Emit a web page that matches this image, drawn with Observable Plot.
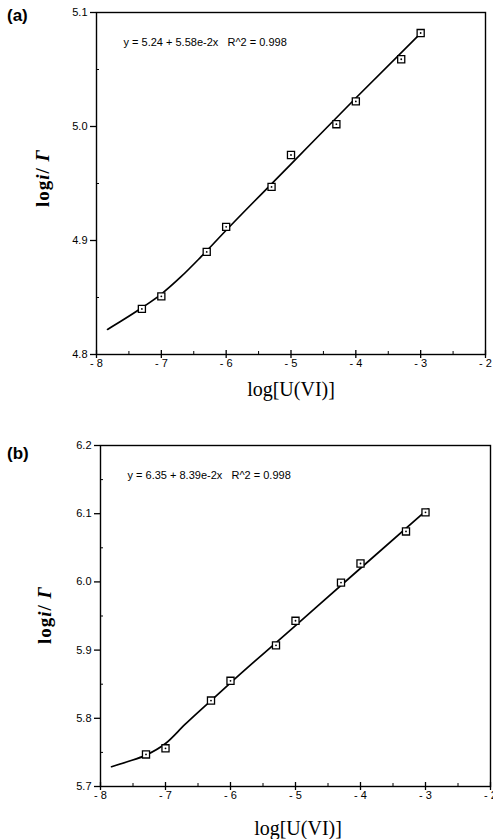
<!DOCTYPE html>
<html><head><meta charset="utf-8">
<script src="https://cdn.jsdelivr.net/npm/d3@7"></script>
<script src="https://cdn.jsdelivr.net/npm/@observablehq/plot@0.6"></script>
<style>
body{margin:0;background:#fff;}
#wrap{position:relative;width:493px;height:839px;overflow:hidden;background:#fff;}
.panel{position:absolute;left:0;}
.plabel{position:absolute;font:bold 17px "Liberation Sans",Arial,sans-serif;color:#000;}
.ytitle{position:absolute;font:bold 19px "Liberation Serif","Times New Roman",serif;letter-spacing:1px;color:#000;white-space:nowrap;transform:translate(-50%,-50%) rotate(-90deg);}
.xtitle{position:absolute;font:20px "Liberation Serif","Times New Roman",serif;color:#000;white-space:nowrap;transform:translate(-50%,-50%);}
</style>
</head><body>
<div id="wrap">
  <div class="panel" id="pa" style="top:0"></div>
  <div class="panel" id="pb" style="top:420px"></div>
  <div class="plabel" style="left:7px;top:6px">(a)</div>
  <div class="plabel" style="left:7px;top:444px">(b)</div>
  <div class="ytitle" style="left:43px;top:178px">log<i>i</i>/ <i>Γ</i></div>
  <div class="ytitle" style="left:45px;top:615px">log<i>i</i>/ <i>Γ</i></div>
  <div class="xtitle" style="left:291px;top:389px">log[U(VI)]</div>
  <div class="xtitle" style="left:298px;top:828px">log[U(VI)]</div>
</div>
<script>
// ---- data ----
const xTicks = [-8, -7, -6, -5, -4, -3, -2];
const xMinor = [-7.5, -6.5, -5.5, -4.5, -3.5, -2.5];

const yTicksA = [4.8, 4.9, 5.0, 5.1];
const yMinorA = [4.85, 4.95, 5.05];
const xA = [-7.3, -7.0, -6.3, -6.0, -5.3, -5.0, -4.3, -4.0, -3.3, -3.0];
const yA = [4.840, 4.851, 4.890, 4.912, 4.947, 4.975, 5.002, 5.022, 5.059, 5.082];
const curveXA = [-7.83, -7.6, -7.3, -7.0, -6.7, -6.4, -6.0, -5.0, -4.0, -2.96];
const curveYA = [4.822, 4.830, 4.841, 4.853, 4.868, 4.885, 4.909, 4.967, 5.025, 5.084];
const eqA = "y = 5.24 + 5.58e-2x   R^2 = 0.998";

const yTicksB = [5.7, 5.8, 5.9, 6.0, 6.1, 6.2];
const yMinorB = [5.75, 5.85, 5.95, 6.05, 6.15];
const xB = [-7.3, -7.0, -6.3, -6.0, -5.3, -5.0, -4.3, -4.0, -3.3, -3.0];
const yB = [5.747, 5.756, 5.826, 5.855, 5.907, 5.943, 5.999, 6.027, 6.074, 6.102];
const curveXB = [-7.83, -7.6, -7.3, -7.0, -6.7, -6.3, -6.0, -5.0, -4.0, -2.96];
const curveYB = [5.729, 5.736, 5.746, 5.763, 5.791, 5.826, 5.852, 5.936, 6.020, 6.107];
const eqB = "y = 6.35 + 8.39e-2x   R^2 = 0.998";

function panel(opts) {
  const pts = opts.xs.map((x, i) => ({x, y: opts.ys[i]}));
  const crv = opts.cx.map((x, i) => ({x, y: opts.cy[i]}));
  return Plot.plot({
    width: 493, height: opts.height,
    marginLeft: opts.ml, marginRight: opts.mr, marginTop: opts.mt, marginBottom: opts.mb,
    x: {domain: [-8, -2]},
    y: {domain: opts.ydom},
    style: {fontFamily: '"Liberation Sans", Arial, sans-serif', fontSize: "11px", color: "black", background: "white", overflow: "visible"},
    marks: [
      Plot.frame({stroke: "black", strokeWidth: 1.4}),
      Plot.axisX(xTicks, {tickSize: 4, tickPadding: 1, tickFormat: d => "- " + Math.abs(d), label: null, strokeWidth: 1.3}),
      Plot.axisX(xTicks, {tickSize: -4, tickFormat: () => "", label: null, strokeWidth: 1.3}),
      Plot.axisX(xMinor, {tickSize: -3, tickFormat: () => "", label: null}),
      Plot.axisY(opts.yt, {tickSize: 6, tickPadding: 3, tickFormat: d3.format(".1f"), label: null, strokeWidth: 1.3}),
      Plot.axisY(opts.ym, {tickSize: -3, tickFormat: () => "", label: null}),
      Plot.line(crv, {x: "x", y: "y", stroke: "black", strokeWidth: 1.7, curve: "monotone-x"}),
      Plot.dot(pts, {x: "x", y: "y", symbol: "square", r: 4, stroke: "black", fill: "white", strokeWidth: 1.3}),
      Plot.dot(pts, {x: "x", y: "y", r: 0.9, fill: "black"}),
      Plot.text([opts.eq], {frameAnchor: "top-left", dx: 27, dy: 26, textAnchor: "start", fontSize: 11, fill: "black"})
    ]
  });
}

document.getElementById("pa").append(panel({
  height: 420, ml: 96, mr: 8, mt: 12, mb: 66, ydom: [4.8, 5.1],
  xs: xA, ys: yA, cx: curveXA, cy: curveYA, yt: yTicksA, ym: yMinorA, eq: eqA
}));
document.getElementById("pb").append(panel({
  height: 419, ml: 100, mr: 3, mt: 25, mb: 53, ydom: [5.7, 6.2],
  xs: xB, ys: yB, cx: curveXB, cy: curveYB, yt: yTicksB, ym: yMinorB, eq: eqB
}));
</script>
</body></html>
